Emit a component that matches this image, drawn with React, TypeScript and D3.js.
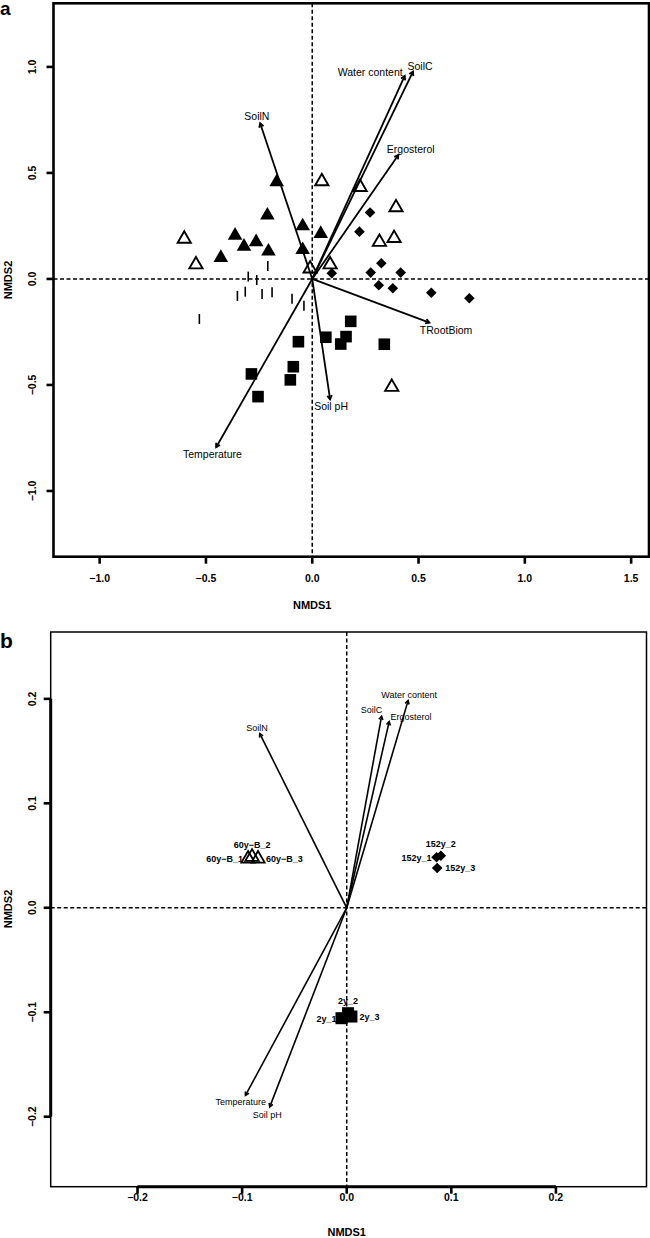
import React from 'react';
import * as d3 from 'd3';

// ---------- Panel a data ----------
const envNamesA = ['Water content', 'SoilC', 'SoilN', 'Ergosterol', 'TRootBiom', 'Soil pH', 'Temperature'];
const envA: [number, number][] = [
  [0.435, 0.958], [0.474, 0.978], [-0.245, 0.734], [0.405, 0.585],
  [0.551, -0.206], [0.084, -0.568], [-0.452, -0.794],
];
const openTriA: [number, number][] = [
  [0.045, 0.46], [0.225, 0.433], [0.394, 0.337], [-0.602, 0.189], [0.316, 0.174],
  [0.385, 0.192], [-0.547, 0.068], [0.084, 0.068], [-0.01, 0.048], [0.374, -0.51],
];
const filledTriA: [number, number][] = [
  [-0.167, 0.457], [-0.211, 0.3], [-0.045, 0.249], [0.04, 0.213], [-0.363, 0.205],
  [-0.264, 0.174], [-0.321, 0.153], [-0.206, 0.13], [-0.045, 0.137], [-0.43, 0.1],
];
const barA: [number, number][] = [
  [-0.209, 0.061], [-0.301, 0.011], [-0.261, -0.005], [-0.352, -0.08], [-0.315, -0.06],
  [-0.236, -0.071], [-0.189, -0.063], [-0.095, -0.094], [-0.039, -0.126], [-0.531, -0.189],
];
const diamondA: [number, number][] = [
  [0.272, 0.313], [0.222, 0.223], [0.325, 0.074], [0.092, 0.027], [0.275, 0.03],
  [0.416, 0.03], [0.313, -0.03], [0.379, -0.044], [0.56, -0.065], [0.739, -0.091],
];
const squareA: [number, number][] = [
  [0.181, -0.2], [0.064, -0.275], [0.159, -0.272], [0.134, -0.307], [-0.065, -0.296],
  [0.339, -0.308], [-0.089, -0.414], [-0.103, -0.476], [-0.286, -0.448], [-0.255, -0.555],
];
const xTicksA = [-1.0, -0.5, 0.0, 0.5, 1.0, 1.5];
const yTicksA = [-1.0, -0.5, 0.0, 0.5, 1.0];

// ---------- Panel b data ----------
const envNamesB = ['Water content', 'SoilC', 'SoilN', 'Ergosterol', 'Soil pH', 'Temperature'];
const envB: [number, number][] = [
  [0.0587, 0.1983], [0.0333, 0.1833], [-0.0831, 0.1667], [0.0406, 0.1782],
  [-0.0736, -0.1906], [-0.0968, -0.1796],
];
const tri60yB: [number, number][] = [[-0.0943, 0.047], [-0.0905, 0.0487], [-0.0848, 0.047]];
const dia152y: [number, number][] = [[0.0859, 0.0484], [0.09, 0.0498], [0.0865, 0.0381]];
const sq2y: [number, number][] = [[-0.005, -0.1057], [0.0013, -0.1009], [0.0045, -0.1041]];
const groupNamesB = ['60y−B', '152y', '2y'];
const xTicksB = [-0.2, -0.1, 0.0, 0.1, 0.2];
const yTicksB = [-0.2, -0.1, 0.0, 0.1, 0.2];

// ---------- layout ----------
const FONT = '"Liberation Sans", Arial, Helvetica, sans-serif';
const labelLayoutA: Record<string, { dx: number; dy: number; anchor: string }> = {
  'Water content': { dx: -2, dy: 0, anchor: 'end' },
  SoilC: { dx: 7, dy: -1.7, anchor: 'middle' },
  SoilN: { dx: -3.3, dy: -3.5, anchor: 'middle' },
  Ergosterol: { dx: 12.4, dy: -1.7, anchor: 'middle' },
  TRootBiom: { dx: 16.7, dy: 11.3, anchor: 'middle' },
  'Soil pH': { dx: 1, dy: 10.7, anchor: 'middle' },
  Temperature: { dx: -3.7, dy: 10.7, anchor: 'middle' },
};
const labelLayoutB: Record<string, { dx: number; dy: number; anchor: string }> = {
  'Water content': { dx: 1, dy: -2.5, anchor: 'middle' },
  SoilC: { dx: -10, dy: -3.5, anchor: 'middle' },
  SoilN: { dx: -2.7, dy: -2.5, anchor: 'middle' },
  Ergosterol: { dx: 1.4, dy: -2.1, anchor: 'start' },
  'Soil pH': { dx: -2.4, dy: 10.9, anchor: 'middle' },
  Temperature: { dx: -4.7, dy: 9.9, anchor: 'middle' },
};

const fmt = (v: number, d: number) => v.toFixed(d).replace('-', '−');

function triPath(x: number, y: number, hw: number) {
  const r = hw * 1.1547;
  const yc = r / 2;
  return `M${x},${y - r}L${x + hw},${y + yc}L${x - hw},${y + yc}Z`;
}

function Arrow({ x1, y1, x2, y2, w, len }: { x1: number; y1: number; x2: number; y2: number; w: number; len: number }) {
  const a = Math.atan2(y2 - y1, x2 - x1);
  const ang = Math.PI / 6;
  const p1 = [x2 - len * Math.cos(a - ang), y2 - len * Math.sin(a - ang)];
  const p2 = [x2 - len * Math.cos(a + ang), y2 - len * Math.sin(a + ang)];
  return (
    <g stroke="#000" strokeWidth={w} fill="none">
      <line x1={x1} y1={y1} x2={x2} y2={y2} />
      <path d={`M${p1[0]},${p1[1]}L${x2},${y2}L${p2[0]},${p2[1]}`} strokeLinejoin="miter" />
    </g>
  );
}

function PanelA() {
  const x = d3.scaleLinear().domain([-1.217, 1.584]).range([53.5, 649]);
  const y = d3.scaleLinear().domain([-1.31, 1.3]).range([556.7, 3.3]);
  const [x0, x1] = x.range();
  const [y0, y1] = y.range();
  return (
    <g fontFamily={FONT}>
      <text x={0} y={15} fontSize={19} fontWeight="bold">a</text>
      {/* dashed zero lines */}
      <line x1={x0} x2={x1} y1={y(0)} y2={y(0)} stroke="#000" strokeWidth={1.5} strokeDasharray="4,2.5" />
      <line x1={x(0)} x2={x(0)} y1={y1} y2={y0} stroke="#000" strokeWidth={1.5} strokeDasharray="4,2.5" />
      {/* arrows */}
      {envA.map((d, i) => (
        <Arrow key={i} x1={x(0)} y1={y(0)} x2={x(d[0])} y2={y(d[1])} w={1.8} len={4.5} />
      ))}
      {envA.map((d, i) => {
        const L = labelLayoutA[envNamesA[i]];
        return (
          <text key={i} x={x(d[0]) + L.dx} y={y(d[1]) + L.dy} fontSize={10.5} textAnchor={L.anchor}>
            {envNamesA[i]}
          </text>
        );
      })}
      {/* points */}
      {filledTriA.map((d, i) => (
        <path key={'ft' + i} d={triPath(x(d[0]), y(d[1]), 7.3)} fill="#000" />
      ))}
      {openTriA.map((d, i) => (
        <path key={'ot' + i} d={triPath(x(d[0]), y(d[1]), 6.6)} fill="none" stroke="#000" strokeWidth={1.9} />
      ))}
      {barA.map((d, i) => (
        <line key={'b' + i} x1={x(d[0])} x2={x(d[0])} y1={y(d[1]) - 5} y2={y(d[1]) + 5} stroke="#000" strokeWidth={1.6} />
      ))}
      {diamondA.map((d, i) => {
        const cx = x(d[0]), cy = y(d[1]), r = 5.3;
        return <path key={'d' + i} d={`M${cx},${cy - r}L${cx + r},${cy}L${cx},${cy + r}L${cx - r},${cy}Z`} fill="#000" />;
      })}
      {squareA.map((d, i) => (
        <rect key={'s' + i} x={x(d[0]) - 5.8} y={y(d[1]) - 5.8} width={11.6} height={11.6} fill="#000" />
      ))}
      {/* box */}
      <rect x={x0} y={y1} width={x1 - x0} height={y0 - y1} fill="none" stroke="#000" strokeWidth={2.6} />
      {/* x axis ticks */}
      {xTicksA.map((t) => (
        <g key={'xt' + t}>
          <line x1={x(t)} x2={x(t)} y1={y0} y2={y0 + 7} stroke="#000" strokeWidth={2.6} />
          <text x={x(t)} y={582} fontSize={10.5} fontWeight="bold" textAnchor="middle">{fmt(t, 1)}</text>
        </g>
      ))}
      {yTicksA.map((t) => (
        <g key={'yt' + t}>
          <line x1={x0 - 7} x2={x0} y1={y(t)} y2={y(t)} stroke="#000" strokeWidth={2.6} />
          <text x={36.5} y={y(t)} fontSize={10.5} fontWeight="bold" textAnchor="middle" transform={`rotate(-90,36.5,${y(t)})`}>
            {fmt(t, 1)}
          </text>
        </g>
      ))}
      <text x={x(0)} y={609} fontSize={11} fontWeight="bold" textAnchor="middle">NMDS1</text>
      <text x={11.5} y={280} fontSize={11} fontWeight="bold" textAnchor="middle" transform="rotate(-90,11.5,280)">NMDS2</text>
    </g>
  );
}

function PanelB() {
  const x = d3.scaleLinear().domain([-0.283, 0.2866]).range([50.7, 646.5]);
  const y = d3.scaleLinear().domain([-0.267, 0.264]).range([1186.7, 632]);
  const [x0, x1] = x.range();
  const [y0, y1] = y.range();
  const groups = [tri60yB, dia152y, sq2y];
  const labelPos = (cx: number, cy: number, j: number) => {
    if (j === 0) return { x: cx - 5, y: cy + 3.5, anchor: 'end' };
    if (j === 1) return { x: cx, y: cy - 9, anchor: 'middle' };
    return { x: cx + 8, y: cy + 3.5, anchor: 'start' };
  };
  return (
    <g fontFamily={FONT}>
      <text x={0} y={648} fontSize={21} fontWeight="bold">b</text>
      <line x1={x0} x2={x1} y1={y(0)} y2={y(0)} stroke="#000" strokeWidth={1.5} strokeDasharray="4,2.5" />
      <line x1={x(0)} x2={x(0)} y1={y1} y2={y0} stroke="#000" strokeWidth={1.5} strokeDasharray="4,2.5" />
      {envB.map((d, i) => (
        <Arrow key={i} x1={x(0)} y1={y(0)} x2={x(d[0])} y2={y(d[1])} w={1.6} len={4} />
      ))}
      {envB.map((d, i) => {
        const L = labelLayoutB[envNamesB[i]];
        return (
          <text key={i} x={x(d[0]) + L.dx} y={y(d[1]) + L.dy} fontSize={9} textAnchor={L.anchor}>
            {envNamesB[i]}
          </text>
        );
      })}
      {tri60yB.map((d, i) => (
        <path key={'t' + i} d={triPath(x(d[0]), y(d[1]), 6.7)} fill="none" stroke="#000" strokeWidth={1.8} />
      ))}
      {dia152y.map((d, i) => {
        const cx = x(d[0]), cy = y(d[1]), r = 5.3;
        return <path key={'d' + i} d={`M${cx},${cy - r}L${cx + r},${cy}L${cx},${cy + r}L${cx - r},${cy}Z`} fill="#000" />;
      })}
      {sq2y.map((d, i) => (
        <rect key={'s' + i} x={x(d[0]) - 6} y={y(d[1]) - 6} width={12} height={12} fill="#000" />
      ))}
      {groups.map((g, gi) =>
        g.map((d, j) => {
          const p = labelPos(x(d[0]), y(d[1]), j);
          return (
            <text key={gi + '-' + j} x={p.x} y={p.y} fontSize={9} fontWeight="bold" textAnchor={p.anchor}>
              {`${groupNamesB[gi]}_${j + 1}`}
            </text>
          );
        })
      )}
      <rect x={x0} y={y1} width={x1 - x0} height={y0 - y1} fill="none" stroke="#000" strokeWidth={1.5} />
      <line x1={x(-0.2)} x2={x(0.2)} y1={y0} y2={y0} stroke="#000" strokeWidth={3} />
      <line x1={x0} x2={x0} y1={y(0.2)} y2={y(-0.2)} stroke="#000" strokeWidth={3} />
      {xTicksB.map((t) => (
        <g key={'xt' + t}>
          <line x1={x(t)} x2={x(t)} y1={y0} y2={y0 + 7} stroke="#000" strokeWidth={2.6} />
          <text x={x(t)} y={1201} fontSize={10.5} fontWeight="bold" textAnchor="middle">{fmt(t, 1)}</text>
        </g>
      ))}
      {yTicksB.map((t) => (
        <g key={'yt' + t}>
          <line x1={x0 - 7} x2={x0} y1={y(t)} y2={y(t)} stroke="#000" strokeWidth={2.6} />
          <text x={36} y={y(t)} fontSize={10.5} fontWeight="bold" textAnchor="middle" transform={`rotate(-90,36,${y(t)})`}>
            {fmt(t, 1)}
          </text>
        </g>
      ))}
      <text x={x(0)} y={1236} fontSize={11} fontWeight="bold" textAnchor="middle">NMDS1</text>
      <text x={11.5} y={909} fontSize={11} fontWeight="bold" textAnchor="middle" transform="rotate(-90,11.5,909)">NMDS2</text>
    </g>
  );
}

export default function App() {
  return (
    <svg
      width={650}
      height={1238}
      viewBox="0 0 650 1238"
      style={{ position: 'absolute', left: 0, top: 0, display: 'block', background: '#fff' }}
    >
      <rect x={0} y={0} width={650} height={1238} fill="#fff" />
      <PanelA />
      <PanelB />
    </svg>
  );
}
